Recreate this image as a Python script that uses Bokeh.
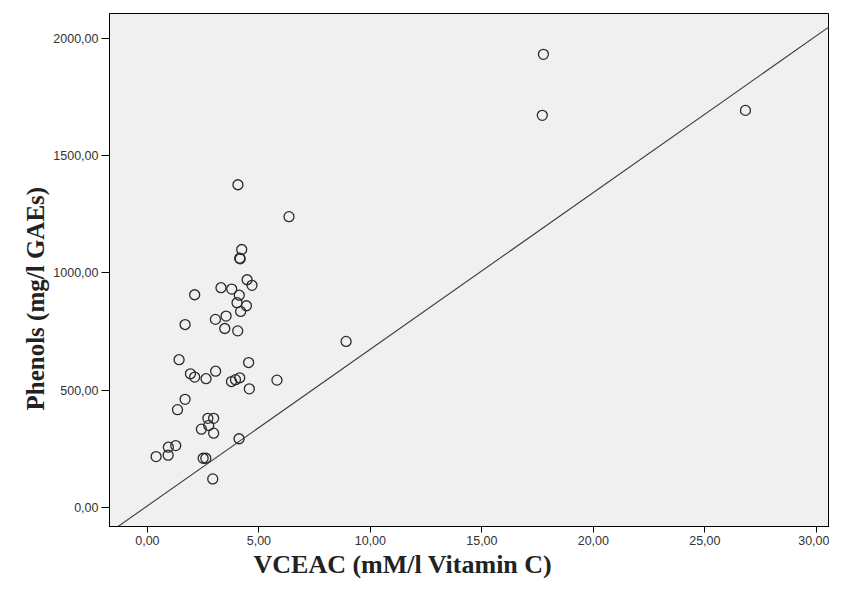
from bokeh.plotting import figure
from bokeh.models import FixedTicker, CustomJSTickFormatter, Range1d, Title
from bokeh.embed import file_html
from bokeh.resources import INLINE

# --- data ---
vceac = [17.76, 17.71, 26.82, 8.91, 4.06, 6.35, 4.23, 4.14, 4.16, 4.47,
         4.69, 3.30, 3.78, 2.12, 4.12, 4.02, 4.44, 4.18, 3.53, 3.05,
         1.69, 3.47, 4.05, 1.42, 1.93, 2.12, 2.63, 3.06, 3.77, 3.95,
         4.14, 4.54, 4.57, 5.81, 1.69, 1.35, 2.71, 2.97, 2.75, 2.42,
         2.97, 4.11, 1.27, 0.94, 0.93, 0.39, 2.50, 2.62, 2.93]
phenols = [1932, 1672, 1693, 708, 1376, 1240, 1100, 1063, 1060, 971,
           947, 937, 931, 907, 905, 873, 860, 836, 816, 802,
           780, 763, 753, 630, 570, 556, 549, 581, 537, 545,
           553, 618, 506, 543, 461, 417, 380, 380, 350, 334,
           317, 293, 264, 257, 223, 217, 210, 210, 122]
fit_slope = 66.8
fit_intercept = 7.0
x_ticks = [0, 5, 10, 15, 20, 25, 30]
y_ticks = [0, 500, 1000, 1500, 2000]
x_title = "VCEAC (mM/l Vitamin C)"
y_title = "Phenols (mg/l GAEs)"

x_lo, x_hi = -1.70, 30.59
y_lo, y_hi = -81, 2106

p = figure(width=829, height=578, output_backend="svg", toolbar_location=None,
           x_range=Range1d(x_lo, x_hi), y_range=Range1d(y_lo, y_hi),
           min_border_left=109, min_border_right=0, min_border_top=13,
           min_border_bottom=45)
p.background_fill_color = "#f0f0f0"
p.border_fill_color = "white"
p.outline_line_color = "black"
p.outline_line_width = 1
p.grid.visible = False

fmt = CustomJSTickFormatter(code="return tick.toFixed(2).replace('.', ',');")
for ax, ticks in ((p.xaxis, x_ticks), (p.yaxis, y_ticks)):
    ax.ticker = FixedTicker(ticks=ticks)
    ax.formatter = fmt
    ax.minor_tick_line_color = None
    ax.major_tick_in = 0
    ax.axis_line_color = "black"
    ax.major_tick_line_color = "black"
    ax.major_label_text_font = "Liberation Sans"
    ax.major_label_text_font_size = "12.5px"
    ax.major_label_text_color = "#333333"
p.xaxis.major_tick_out = 6
p.yaxis.major_tick_out = 8
p.xaxis.major_label_standoff = 3
p.yaxis.major_label_standoff = 3

# reference line
lx = [x_lo, x_hi]
ly = [fit_slope * v + fit_intercept for v in lx]
p.line(lx, ly, line_color="#3c3c3c", line_width=1.1)

p.scatter(vceac, phenols, marker="circle", size=10, fill_color=None,
          line_color="#2a2a2a", line_width=1.3)

p.add_layout(Title(text=x_title, align="left", offset=144, standoff=0,
                   text_font="Liberation Serif", text_font_style="bold",
                   text_font_size="26px", text_color="#222222"), "below")
p.add_layout(Title(text=y_title, align="left", offset=116, standoff=4,
                   text_font="Liberation Serif", text_font_style="bold",
                   text_font_size="25px", text_color="#222222"), "left")

open("out.html", "w").write(file_html(p, INLINE))
